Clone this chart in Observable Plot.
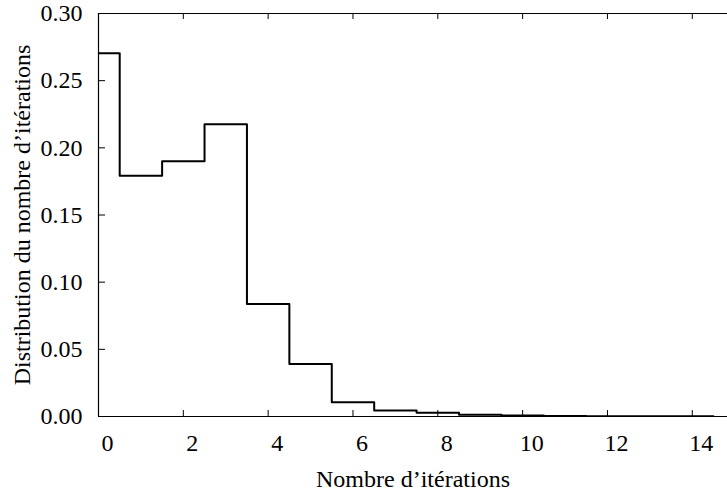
<!DOCTYPE html>
<html>
<head>
<meta charset="utf-8">
<script src="https://cdn.jsdelivr.net/npm/d3@7"></script>
<script src="https://cdn.jsdelivr.net/npm/@observablehq/plot@0.6"></script>
<style>
  html, body { margin: 0; padding: 0; background: white; overflow: hidden; }
</style>
</head>
<body>
<div id="chart"></div>
<script>
// Iteration counts (bin centres) and their distribution
const iterations = [0, 1, 2, 3, 4, 5, 6, 7, 8, 9, 10, 11, 12, 13, 14, 15];
const distribution = [0.2704, 0.1793, 0.1900, 0.2175, 0.0837, 0.0391, 0.0106, 0.0045, 0.0027, 0.0013, 0.0007, 0.0004, 0.0002, 0.0001, 0.0001, 0.0001];
const xTicks = [0, 2, 4, 6, 8, 10, 12, 14];
const yTicks = [0.00, 0.05, 0.10, 0.15, 0.20, 0.25, 0.30];
const xTitle = "Nombre d’itérations";
const yTitle = "Distribution du nombre d’itérations";

// step outline: each bin starts half a unit left of its centre
const steps = iterations.map((c, i) => ({x: c - 0.5, y: distribution[i]}));

const W = 727, H = 495;
const mL = 98, mR = 0, mT = 13, mB = 79;
const plotW = W - mL - mR, plotH = H - mT - mB;
const font = "'Liberation Serif', 'Times New Roman', serif";

const chart = Plot.plot({
  width: W,
  height: H,
  marginLeft: mL,
  marginRight: mR,
  marginTop: mT,
  marginBottom: mB,
  style: {fontFamily: font, fontSize: "24px", color: "black", background: "white"},
  x: {domain: [0, 14.83], axis: null},
  y: {domain: [0, 0.30], axis: null},
  marks: [
    Plot.lineY(steps, {x: "x", y: "y", curve: "step-after", stroke: "black", strokeWidth: 2, clip: true}),
    // frame (left, top, bottom)
    Plot.ruleY([0, 0.30], {stroke: "black", strokeWidth: 1.2}),
    Plot.ruleX([0], {stroke: "black", strokeWidth: 1.2}),
    // inward ticks
    Plot.tickX(xTicks, {x: d => d, insetTop: plotH - 6, stroke: "black", strokeWidth: 1}),
    Plot.tickX(xTicks, {x: d => d, insetBottom: plotH - 6, stroke: "black", strokeWidth: 1}),
    Plot.tickY(yTicks, {y: d => d, insetRight: plotW - 7, stroke: "black", strokeWidth: 1}),
    // tick labels
    Plot.axisX(xTicks, {anchor: "bottom", tickSize: 0, tickPadding: 17, dx: 9, label: null, fontSize: 24}),
    Plot.axisY(yTicks, {anchor: "left", tickSize: 0, tickPadding: 16, tickFormat: d3.format(".2f"), label: null, fontSize: 24}),
    // titles
    Plot.text([xTitle], {frameAnchor: "bottom", lineAnchor: "middle", textAnchor: "middle", dy: 63, fontSize: 24, fill: "black"}),
    Plot.text([yTitle], {frameAnchor: "left", lineAnchor: "middle", textAnchor: "middle", rotate: -90, dx: -76, fontSize: 24, fill: "black"})
  ]
});

document.getElementById("chart").appendChild(chart);
</script>
</body>
</html>
